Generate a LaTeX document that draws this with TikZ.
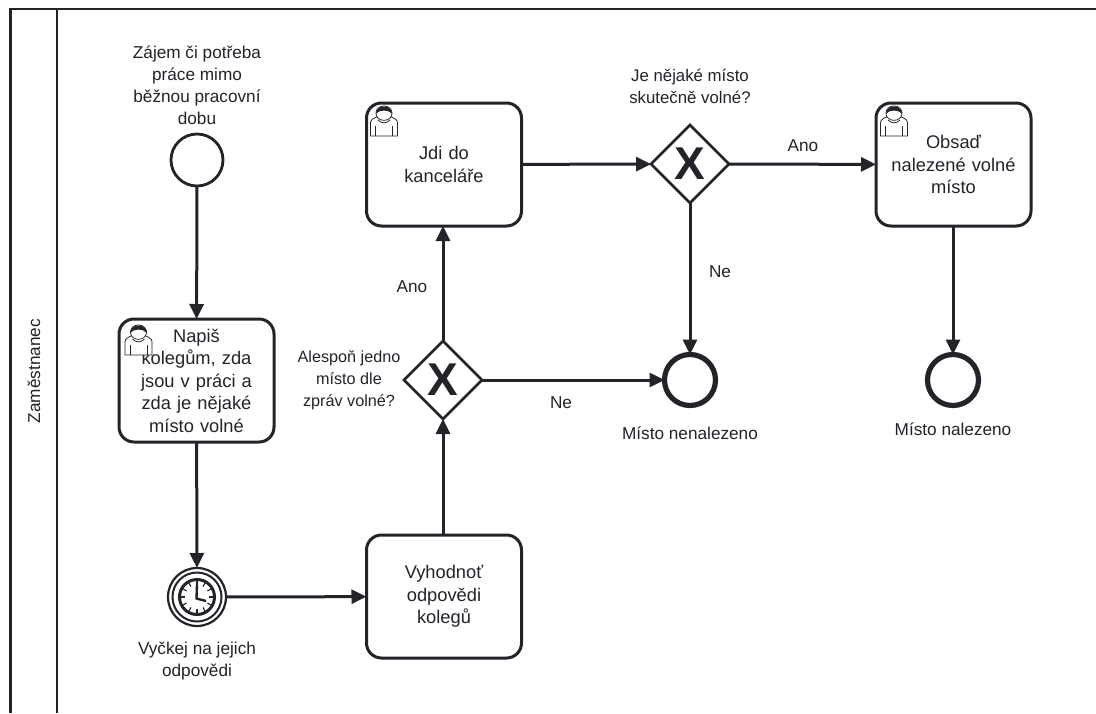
\documentclass[tikz,border=0pt]{standalone}
\usepackage{fontspec}
\setmainfont{Liberation Sans}
\usetikzlibrary{shapes.geometric,arrows.meta}
\definecolor{ink}{HTML}{22242A}
\tikzset{
  x=1pt,y=-1pt,
  every node/.style={text=ink,font=\fontsize{17.2}{22}\selectfont,inner sep=0,outer sep=0},
  taskbox/.style={draw=ink,line width=3pt,rounded corners=15pt,minimum width=155pt,minimum height=123pt,fill=white,align=center,text width=135pt,font=\fontsize{18.3}{22.5}\selectfont},
  startev/.style={circle,draw=ink,line width=2.8pt,minimum size=52pt},
  endev/.style={circle,draw=ink,line width=5.2pt,minimum size=51pt},
  timerev/.style={circle,draw=ink,line width=2.2pt,minimum size=58pt,fill=white},
  gate/.style={diamond,draw=ink,line width=2.8pt,minimum width=78pt,minimum height=78pt,fill=white},
  flow/.style={draw=ink,line width=3pt,-{Triangle[length=15pt,width=14pt]}},
  lbl/.style={align=center},
  gatelbl/.style={align=center,font=\fontsize{16.2}{22}\selectfont},
  usericon/.pic={
    \draw[ink,line width=.75pt,fill=white] (-16,21) -- (-16,4) .. controls (-16,-1) and (-11,-3) .. (-6,-5) -- (6,-5) .. controls (11,-3) and (16,-1) .. (16,4) -- (16,21) -- cycle;
    \draw[ink,line width=.75pt] (-10,8) -- (-10,21) (10,8) -- (10,21);
    \draw[ink,line width=.75pt,fill=white] (0,-9) circle[radius=9.5];
    \draw[ink,line width=.75pt] (-7,0) .. controls (-3,5) and (3,5) .. (7,0);
    \fill[ink] (-9.5,-8) .. controls (-9,-21) and (9,-21) .. (9.5,-8) .. controls (6,-14) and (-6,-14) .. (-9.5,-8) -- cycle;
  }
}
\begin{document}
\begin{tikzpicture}
\useasboundingbox (0,0) rectangle (1096,713);
\fill[white] (0,0) rectangle (1096,713);
\draw[ink,line width=2.4pt] (10.5,713) -- (10.5,9) -- (1096,9);
\draw[ink,line width=2.4pt] (57,9) -- (57,713);
\node[rotate=90] (pool) at (34,371) {Zaměstnanec};

\node[startev] (start) at (197,160) {};
\node[taskbox] (t1) at (196.5,380.5) {Napiš\\kolegům, zda\\jsou v práci a\\zda je nějaké\\místo volné};
\node[timerev] (timer) at (197,597) {};
\node[taskbox] (t2) at (444,596.5) {Vyhodnoť\\odpovědi\\kolegů};
\node[gate] (g1) at (443,380) {};
\node[taskbox] (t3) at (444,164.5) {Jdi do\\kanceláře};
\node[gate] (g2) at (690,164) {};
\node[taskbox] (t4) at (953.5,164.5) {Obsaď\\nalezené volné\\místo};
\node[endev] (e1) at (690,380) {};
\node[endev] (e2) at (953,380) {};

% gateway crosses
\node[font=\bfseries\fontsize{46}{46}\selectfont] (x1) at (443,380) {X};
\node[font=\bfseries\fontsize{46}{46}\selectfont] (x2) at (690,164) {X};

% timer inner
\draw[ink,line width=2pt] (197,597) circle[radius=24.5];
\draw[ink,line width=3pt] (197,597) circle[radius=17.5];
\foreach \a in {0,30,...,330}{\draw[ink,line width=1.1pt] (197,597) ++(\a:12) -- ++(\a:4.5);}
\draw[ink,line width=2.4pt,line join=miter] (197,585) -- (196.5,598.5) -- (206,601);

% user icons
\pic[xscale=.85,yscale=.76] at (138.5,339) {usericon};
\pic[xscale=.85,yscale=.76] at (384,120) {usericon};
\pic[xscale=.85,yscale=.76] at (894,120) {usericon};

% labels
\node[lbl] (ls) at (197,85) {Zájem či potřeba\\práce mimo\\běžnou pracovní\\dobu};
\node[lbl] (lt) at (197,661) {Vyčkej na jejich\\odpovědi};
\node[gatelbl] (lg1) at (349,380) {Alespoň jedno\\místo dle\\zpráv volné?};
\node[gatelbl,font=\fontsize{16.8}{22}\selectfont] (lg2) at (690,86) {Je nějaké místo\\skutečně volné?};
\node (le1) at (690,433) {Místo nenalezeno};
\node (le2) at (953,429) {Místo nalezeno};
\node (a1) at (412,287) {Ano};
\node (n1) at (561,403) {Ne};
\node (a2) at (803,146) {Ano};
\node (n2) at (720,272) {Ne};

% flows
\draw[flow] (start) -- (t1);
\draw[flow] (t1) -- (timer);
\draw[flow] (timer) -- (t2);
\draw[flow] (t2.north -| g1) -- (g1);
\draw[flow] (g1) -- (t3.south -| g1);
\draw[flow] (g1) -- (e1);
\draw[flow] (t3) -- (g2);
\draw[flow] (g2) -- (t4);
\draw[flow] (g2) -- (e1);
\draw[flow] (t4.south -| e2) -- (e2);
\end{tikzpicture}
\end{document}
